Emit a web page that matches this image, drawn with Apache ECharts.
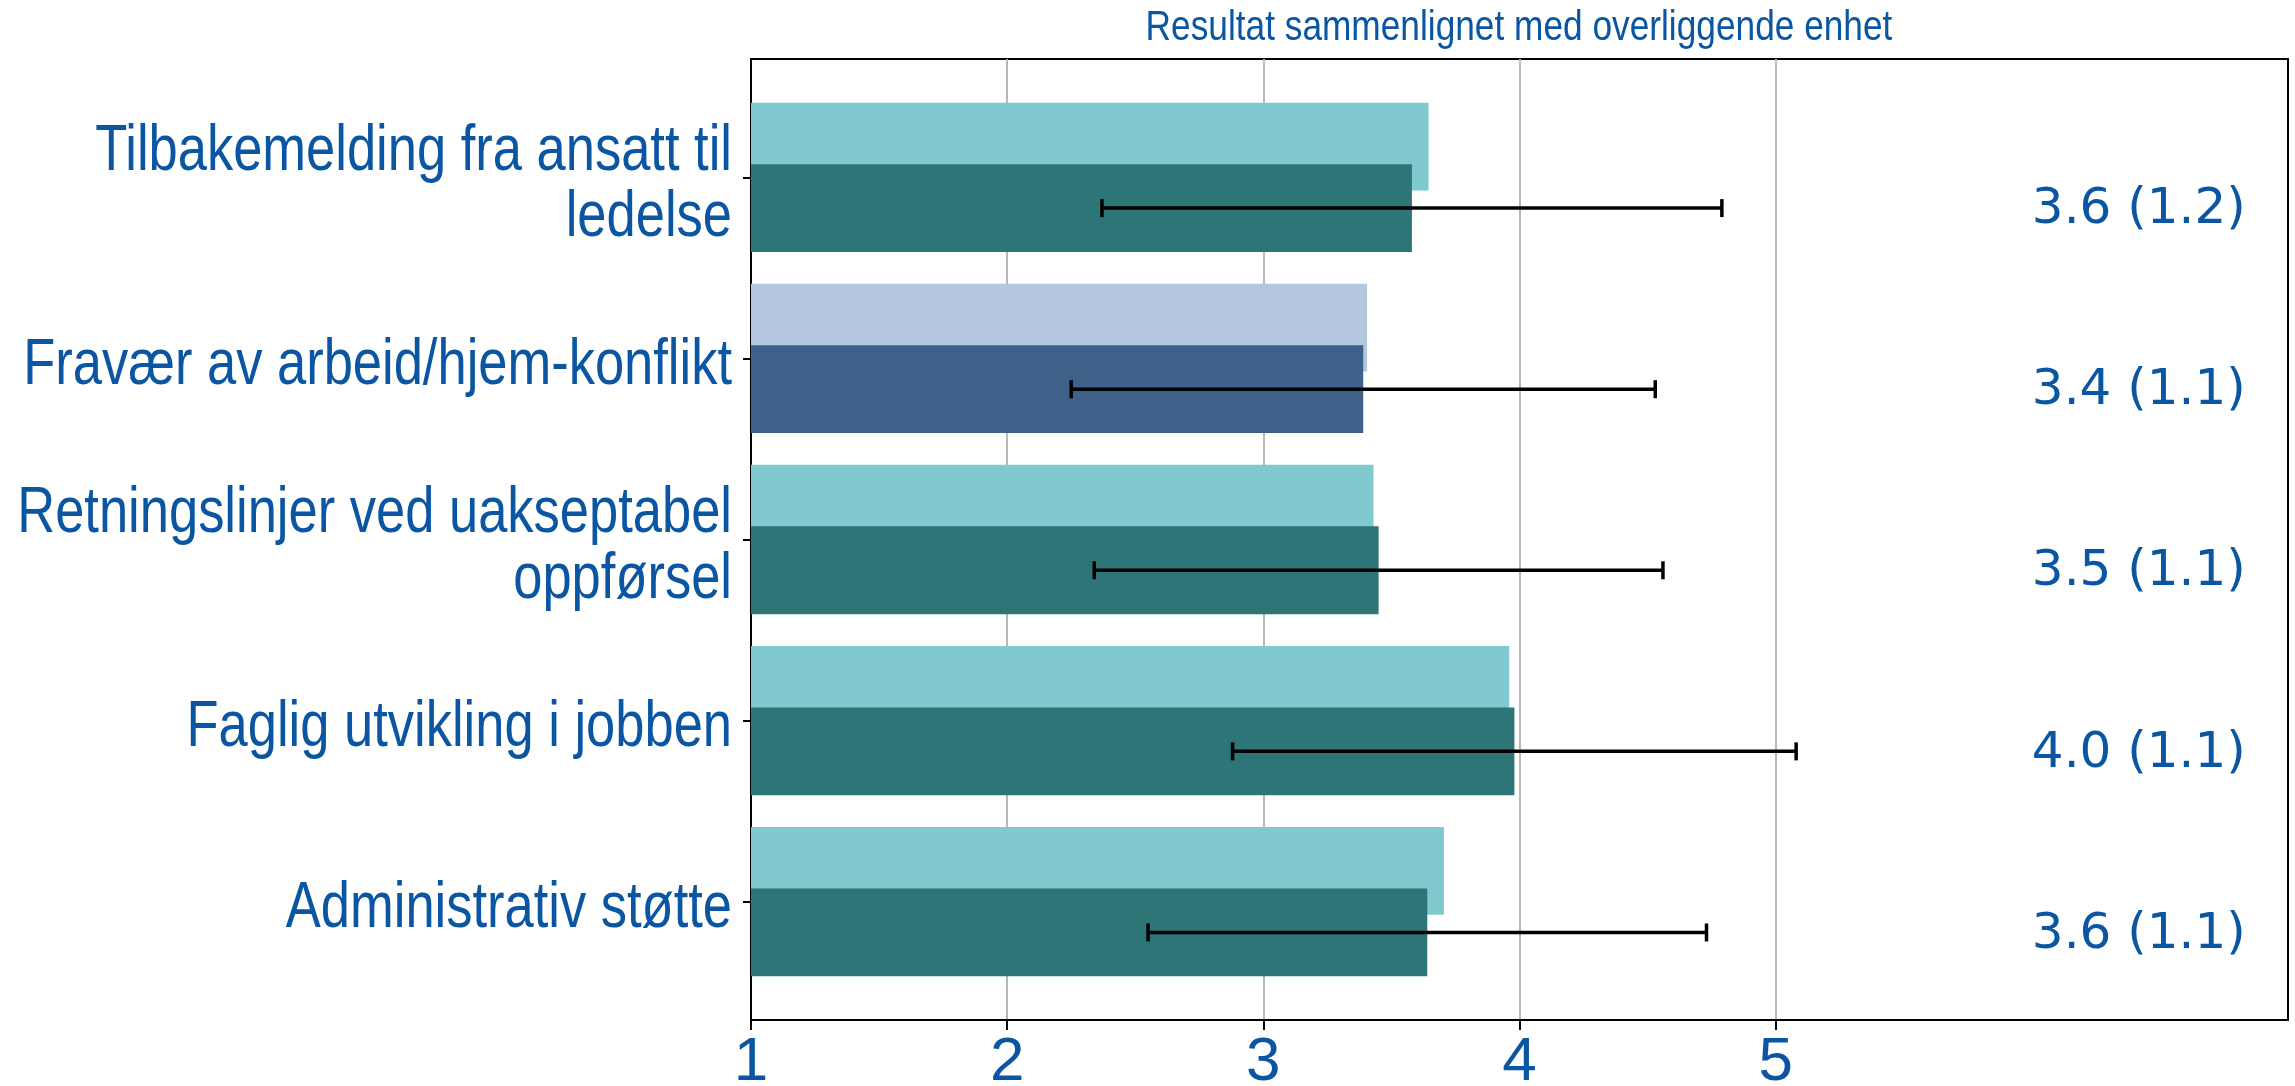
<!DOCTYPE html>
<html lang="no">
<head>
<meta charset="utf-8">
<title>Resultat sammenlignet med overliggende enhet</title>
<script src="https://cdn.jsdelivr.net/npm/echarts@6/dist/echarts.min.js"></script>
<style>
  html, body { margin: 0; padding: 0; background: #fff; }
  #chart { width: 2295px; height: 1086px; }
</style>
</head>
<body>
<div id="chart"></div>
<script>
// kategorier, ovenfra og ned (indeks = posisjon på y-aksen)
const categories = [
  'Tilbakemelding fra ansatt til\nledelse',
  'Fravær av arbeid/hjem-konflikt',
  'Retningslinjer ved uakseptabel\noppførsel',
  'Faglig utvikling i jobben',
  'Administrativ støtte'
];
// overliggende enhet (lyse søyler)
const parentMeans = [3.645, 3.405, 3.43, 3.96, 3.705];
// egen enhet (mørke søyler) + standardavvik
const unitMeans = [3.58, 3.39, 3.45, 3.98, 3.64];
const unitSd = [1.21, 1.14, 1.11, 1.10, 1.09];
// tekst til høyre
const resultLabels = ['3.6 (1.2)', '3.4 (1.1)', '3.5 (1.1)', '4.0 (1.1)', '3.6 (1.1)'];
const xTicks = [1, 2, 3, 4, 5];
const yTicks = [0, 1, 2, 3, 4];

const TEXT = '#0b56a3';
const SANS = '"Liberation Sans", Arial, sans-serif';
const NARROW_SCALE = 0.82; // smal skrift (ingen "Narrow" installert)
const teal = { light: '#80cacf', dark: '#2e7577' };
const blue = { light: '#b3c8de', dark: '#3e6189' };
const barPalette = [teal, blue, teal, teal, teal];

// søylenes utstrekning rundt kategorien, i kategorienheter
const LIGHT_SPAN = [-0.415, 0.07];
const DARK_SPAN = [-0.075, 0.41];
const DARK_MID = (DARK_SPAN[0] + DARK_SPAN[1]) / 2;
const X_MIN = 1;

function barRenderer(span, tone) {
  return function (params, api) {
    const i = api.value(0);
    const a = api.coord([X_MIN, i + span[0]]);
    const b = api.coord([api.value(1), i + span[1]]);
    return {
      type: 'rect',
      shape: { x: a[0], y: a[1], width: b[0] - a[0], height: b[1] - a[1] },
      style: { fill: barPalette[i][tone] }
    };
  };
}

function errorRenderer(params, api) {
  const i = api.value(0);
  const m = api.value(1);
  const sd = api.value(2);
  const lo = api.coord([m - sd, i + DARK_MID]);
  const hi = api.coord([m + sd, i + DARK_MID]);
  const cap = 9;
  const style = { stroke: '#000', lineWidth: 3.5 };
  return {
    type: 'group',
    children: [
      { type: 'line', shape: { x1: lo[0], y1: lo[1], x2: hi[0], y2: hi[1] }, style },
      { type: 'line', shape: { x1: lo[0], y1: lo[1] - cap, x2: lo[0], y2: lo[1] + cap }, style },
      { type: 'line', shape: { x1: hi[0], y1: hi[1] - cap, x2: hi[0], y2: hi[1] + cap }, style }
    ]
  };
}

// kategorinavn til venstre for aksen, smalt som i originalen
function categoryRenderer(params, api) {
  const i = api.value(0);
  const p = api.coord([X_MIN, i + 0.04]);
  return {
    type: 'text',
    x: p[0] - 19,
    y: p[1],
    scaleX: NARROW_SCALE,
    style: {
      text: categories[i],
      fill: TEXT,
      fontSize: 64,
      lineHeight: 66,
      fontFamily: SANS,
      align: 'right',
      verticalAlign: 'middle'
    }
  };
}

function labelRenderer(params, api) {
  const i = api.value(0);
  const p = api.coord([api.value(1), i + DARK_MID + 0.012]);
  return {
    type: 'text',
    x: p[0],
    y: p[1],
    style: {
      text: resultLabels[i],
      fill: TEXT,
      fontSize: 50,
      fontFamily: '"DejaVu Sans", sans-serif',
      align: 'left',
      verticalAlign: 'middle'
    }
  };
}

const chart = echarts.init(document.getElementById('chart'));

const option = {
  animation: false,
  graphic: [{
    type: 'text',
    x: 1519,
    y: 28,
    scaleX: NARROW_SCALE,
    style: {
      text: 'Resultat sammenlignet med overliggende enhet',
      fill: TEXT,
      fontSize: 43,
      fontFamily: SANS,
      align: 'center',
      verticalAlign: 'middle'
    }
  }],
  grid: {
    left: 751, right: 7, top: 59, bottom: 66,
    containLabel: false,
    outerBoundsMode: 'none',
    show: true, borderColor: '#000', borderWidth: 2
  },
  xAxis: {
    type: 'value',
    min: 1,
    max: 7,
    axisLine: { show: true, onZero: false, lineStyle: { color: '#000', width: 2 } },
    axisTick: { show: true, customValues: xTicks, length: 10, lineStyle: { color: '#000', width: 2 } },
    axisLabel: { customValues: xTicks, color: TEXT, fontSize: 62, fontFamily: SANS, margin: 12 },
    splitLine: { show: true, lineStyle: { color: '#b8b8b8', width: 2 } }
  },
  yAxis: {
    type: 'value',
    inverse: true,
    min: -0.656,
    max: 4.651,
    axisLine: { show: true, onZero: false, lineStyle: { color: '#000', width: 2 } },
    axisTick: { show: true, customValues: yTicks, length: 8, lineStyle: { color: '#000', width: 2 } },
    axisLabel: { show: false },
    splitLine: { show: false }
  },
  series: [
    {
      type: 'custom',
      name: 'Overliggende enhet',
      renderItem: barRenderer(LIGHT_SPAN, 'light'),
      encode: { x: 1, y: 0 },
      data: parentMeans.map((v, i) => [i, v])
    },
    {
      type: 'custom',
      name: 'Enhet',
      renderItem: barRenderer(DARK_SPAN, 'dark'),
      encode: { x: 1, y: 0 },
      data: unitMeans.map((v, i) => [i, v])
    },
    {
      type: 'custom',
      name: 'Standardavvik',
      renderItem: errorRenderer,
      encode: { x: 1, y: 0 },
      data: unitMeans.map((v, i) => [i, v, unitSd[i]])
    },
    {
      type: 'custom',
      name: 'Resultat',
      renderItem: labelRenderer,
      encode: { x: 1, y: 0 },
      data: resultLabels.map((t, i) => [i, 6])
    },
    {
      type: 'custom',
      name: 'Kategorier',
      renderItem: categoryRenderer,
      clip: false,
      encode: { x: 1, y: 0 },
      data: categories.map((c, i) => [i, X_MIN])
    }
  ]
};

chart.setOption(option);

window.addEventListener('resize', () => chart && chart.resize());
</script>
</body>
</html>
